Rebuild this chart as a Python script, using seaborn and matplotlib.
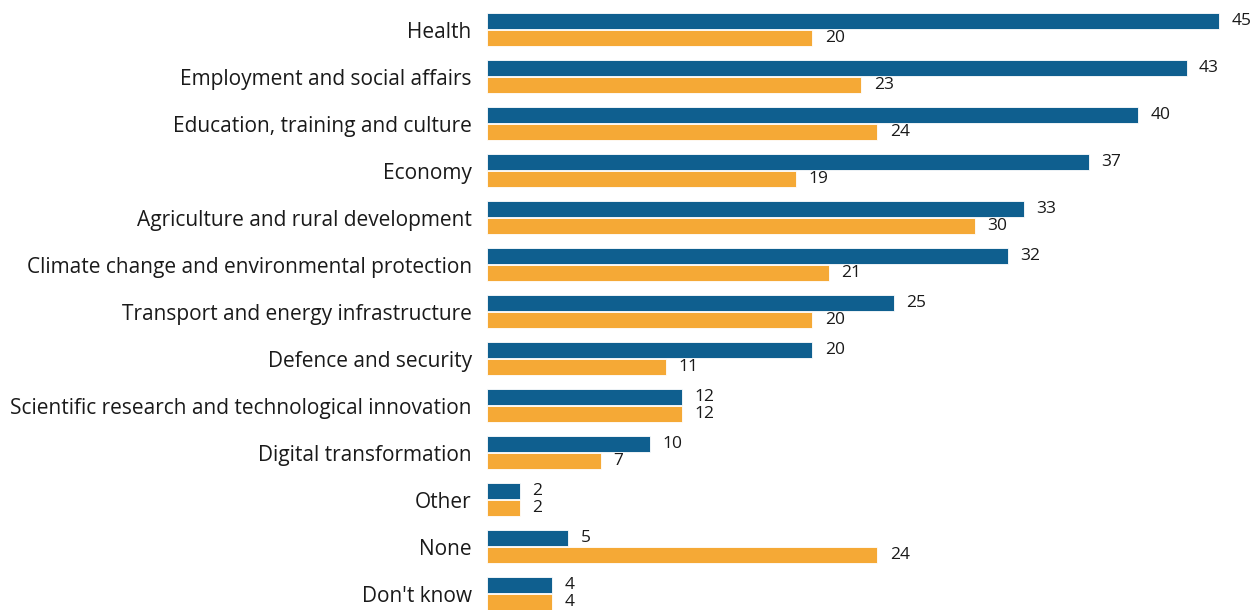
import matplotlib.pyplot as plt
import pandas as pd
import seaborn as sns

# Values
categories = ['Health', 'Employment and social affairs', 'Education, training and culture',
              'Economy', 'Agriculture and rural development',
              'Climate change and environmental protection', 'Transport and energy infrastructure',
              'Defence and security', 'Scientific research and technological innovation',
              'Digital transformation', 'Other', 'None', "Don't know"]
blue_values = [45, 43, 40, 37, 33, 32, 25, 20, 12, 10, 2, 5, 4]
orange_values = [20, 23, 24, 19, 30, 21, 20, 11, 12, 7, 2, 24, 4]
series_names = ['Blue', 'Orange']
colors = ['#0f5f8f', '#f5a936']

df = pd.DataFrame({
    'category': categories * 2,
    'value': blue_values + orange_values,
    'series': [series_names[0]] * len(categories) + [series_names[1]] * len(categories),
})

sns.set_style('white')
plt.rcParams['font.family'] = ['Open Sans', 'DejaVu Sans']

fig = plt.figure(figsize=(12.53, 6.10), dpi=100)
ax = fig.add_axes([487 / 1253, 0, 1 - 487 / 1253, 1])

sns.barplot(data=df, x='value', y='category', hue='series', order=categories,
            hue_order=series_names, palette=colors, saturation=1, width=0.72, gap=0.1,
            edgecolor='white', linewidth=0.6, ax=ax, legend=False)

for container in ax.containers:
    ax.bar_label(container, padding=9, fontsize=12.5, color='#1a1a1a')

ax.set_xlim(0, 766 / 16.27)
ax.set_ylim(12.35, -0.628)
ax.set_xlabel('')
ax.set_ylabel('')
ax.set_xticks([])
ax.tick_params(axis='y', length=0, pad=11, labelsize=15, labelcolor='#1a1a1a')
sns.despine(ax=ax, left=True, bottom=True)

fig.savefig('out.png', dpi=100)
